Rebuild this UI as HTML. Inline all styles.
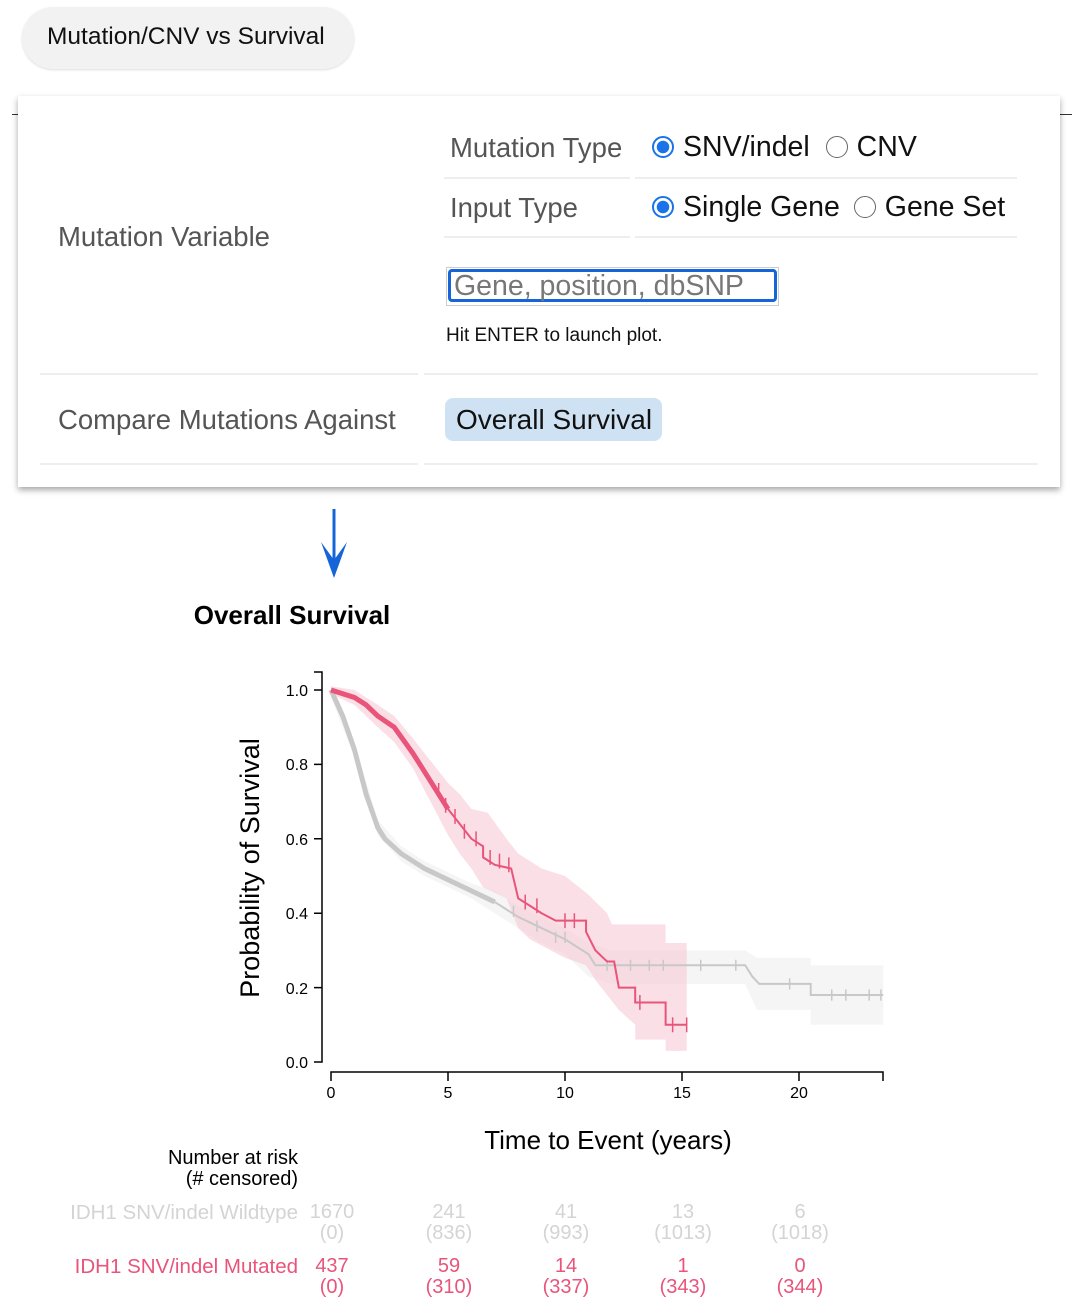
<!DOCTYPE html>
<html><head><meta charset="utf-8">
<style>
body{margin:0;width:1086px;height:1312px;background:#fff;position:relative;overflow:hidden;font-family:"Liberation Sans",Arial,sans-serif;}
.a{position:absolute;white-space:nowrap;}
.hl{position:absolute;height:2px;background:#eeeeee;}
.radio{display:inline-block;width:22px;height:22px;border-radius:50%;box-sizing:border-box;vertical-align:-2px;margin-right:9px;}
.on{border:2px solid #1a73e8;background:radial-gradient(circle,#1a73e8 0 6px,#fff 6.5px);}
.off{border:1.5px solid #666;background:#fff;}
.c{position:absolute;text-align:center;width:80px;line-height:21px;font-size:20px;}
</style></head><body>
<div class="a" style="left:22px;top:7px;width:332px;height:62px;border-radius:31px;background:#f2f2f2;box-shadow:0 1px 2px #ddd;"></div>
<div class="a" style="left:47px;top:23px;font-size:24.5px;color:#111;">Mutation/CNV vs Survival</div>
<div class="a" style="left:12px;top:114px;width:1060px;height:1px;background:#333;"></div>
<div class="a" style="left:18px;top:96px;width:1042px;height:391px;background:#fff;box-shadow:0 3px 6px rgba(0,0,0,0.35);"></div>
<div class="a" style="left:450px;top:132px;font-size:27.5px;color:#555;">Mutation Type</div>
<div class="a" style="left:652px;top:131px;font-size:28.5px;color:#111;"><span class="radio on"></span>SNV/indel <span style="display:inline-block;width:8px"></span><span class="radio off"></span>CNV</div>
<div class="hl" style="left:444px;top:177px;width:186px;"></div><div class="hl" style="left:635px;top:177px;width:382px;"></div>
<div class="a" style="left:450px;top:192px;font-size:27.5px;color:#555;">Input Type</div>
<div class="a" style="left:652px;top:191px;font-size:28.5px;color:#111;"><span class="radio on"></span>Single Gene <span style="display:inline-block;width:6px"></span><span class="radio off"></span>Gene Set</div>
<div class="hl" style="left:444px;top:236px;width:186px;"></div><div class="hl" style="left:635px;top:236px;width:382px;"></div>
<div class="a" style="left:58px;top:221px;font-size:27.5px;color:#555;">Mutation Variable</div>
<div class="a" style="left:446px;top:267px;width:333px;height:39px;border:1px solid #ccc;box-sizing:border-box;"></div>
<div class="a" style="left:448px;top:269px;width:329px;height:33px;border:3px solid #1565d8;border-radius:4px;box-sizing:border-box;"></div>
<div class="a" style="left:454px;top:270px;font-size:28.5px;color:#777;">Gene, position, dbSNP</div>
<div class="a" style="left:446px;top:325px;font-size:19px;color:#111;">Hit ENTER to launch plot.</div>
<div class="hl" style="left:40px;top:373px;width:378px;"></div><div class="hl" style="left:424px;top:373px;width:614px;"></div>
<div class="a" style="left:58px;top:404px;font-size:27.5px;color:#555;">Compare Mutations Against</div>
<div class="a" style="left:445px;top:398px;width:217px;height:43px;border-radius:8px;background:#cfe2f3;"></div>
<div class="a" style="left:456px;top:404px;font-size:28px;color:#111;">Overall Survival</div>
<div class="hl" style="left:40px;top:463px;width:378px;"></div><div class="hl" style="left:424px;top:463px;width:614px;"></div>

<svg class="a" style="left:0;top:0" width="1086" height="1312">
<line x1="334" y1="509" x2="334" y2="565" stroke="#1565d8" stroke-width="3"/>
<polygon points="321,542 334,578 347,542 334,560" fill="#1565d8"/>
<text x="292" y="624" font-size="26" font-weight="bold" text-anchor="middle" fill="#000" font-family="Liberation Sans">Overall Survival</text>
<text transform="translate(259,868) rotate(-90)" font-size="27" text-anchor="middle" fill="#000" font-family="Liberation Sans">Probability of Survival</text>
<text x="608" y="1149" font-size="26" text-anchor="middle" fill="#000" font-family="Liberation Sans">Time to Event (years)</text>
<g stroke="#000" stroke-width="1.5" fill="none">
<path d="M314,672H322V1062H314"/>
<path d="M314,690H322M314,764.4H322M314,838.8H322M314,913.2H322M314,987.6H322"/>
<path d="M331,1081V1072H883V1081"/>
<path d="M448,1072V1081M565,1072V1081M682,1072V1081M799,1072V1081"/>
</g>
<g font-size="16" fill="#000" font-family="Liberation Sans" text-anchor="end">
<text x="308" y="696">1.0</text><text x="308" y="770">0.8</text><text x="308" y="845">0.6</text><text x="308" y="919">0.4</text><text x="308" y="994">0.2</text><text x="308" y="1068">0.0</text>
</g>
<g font-size="16" fill="#000" font-family="Liberation Sans" text-anchor="middle">
<text x="331" y="1098">0</text><text x="448" y="1098">5</text><text x="565" y="1098">10</text><text x="682" y="1098">15</text><text x="799" y="1098">20</text>
</g>
<g transform="translate(331,1062) scale(23.4,-372)">
<polygon fill="#eeeeee" opacity="0.6" points="0,1 1,0.86 2,0.65 3,0.58 4,0.54 5,0.51 6,0.48 7,0.46 8,0.42 9,0.39 10,0.36 10.5,0.34 11,0.32 12,0.3 17,0.3 17.7,0.3 18.2,0.28 20.5,0.28 20.5,0.26 23.6,0.26 23.6,0.1 20.5,0.1 20.5,0.14 18.2,0.14 17.7,0.21 12,0.21 11,0.23 10,0.29 9,0.32 8,0.36 7,0.4 6,0.44 5,0.47 4,0.5 3,0.54 2,0.61 1,0.82 0,0.98"/>
<polygon fill="#f9c9d6" opacity="0.6" points="0,1.01 1,1 2,0.96 2.7,0.93 3.5,0.87 4,0.83 4.5,0.79 5,0.75 5.5,0.72 6,0.68 6.7,0.67 7.5,0.6 8,0.56 9,0.52 10,0.5 11,0.45 11.8,0.4 12,0.37 14.3,0.37 14.3,0.32 15.2,0.32 15.2,0.03 14.3,0.03 14.3,0.06 13,0.06 13,0.1 12.3,0.14 11.3,0.22 10.9,0.26 10,0.28 8.5,0.33 8,0.36 7.5,0.44 6.5,0.47 6,0.52 5.5,0.56 5,0.61 4.5,0.67 4,0.73 3.5,0.79 2.7,0.86 2,0.9 1,0.96 0,0.99"/>
<polyline fill="none" stroke="#c8c8c8" stroke-width="5" vector-effect="non-scaling-stroke" points="0,1 0.5,0.93 1,0.84 1.5,0.72 2,0.63 2.3,0.6 3,0.56 4,0.52 5,0.49 6,0.46 7,0.43"/>
<polyline fill="none" stroke="#c8c8c8" stroke-width="2" vector-effect="non-scaling-stroke" points="7,0.43 8,0.39 9,0.36 10,0.33 11,0.29 11.3,0.26 17.7,0.26 18,0.23 18.3,0.21 20.5,0.21 20.5,0.18 23.6,0.18"/>
<path stroke="#c8c8c8" stroke-width="1.5" vector-effect="non-scaling-stroke" d="M11.8,0.245V0.275M12.8,0.245V0.275M13.6,0.245V0.275M14.2,0.245V0.275M15.8,0.245V0.275M17.3,0.245V0.275M19.6,0.195V0.225M21.4,0.165V0.195M22.0,0.165V0.195M23,0.165V0.195M23.5,0.165V0.195M9.6,0.32V0.35M10,0.32V0.35M8.8,0.35V0.38M7.8,0.39V0.42"/>
<polyline fill="none" stroke="#e8547a" stroke-width="5" vector-effect="non-scaling-stroke" points="0,1 1,0.98 1.5,0.96 2,0.93 2.7,0.9 3.5,0.83 4,0.78 4.5,0.73 5,0.68"/>
<polyline fill="none" stroke="#e8547a" stroke-width="2" vector-effect="non-scaling-stroke" points="5,0.68 5.5,0.64 6,0.6 6.5,0.58 6.5,0.55 7,0.53 7.7,0.52 8,0.44 8.5,0.42 9,0.4 9.6,0.38 10.9,0.38 10.9,0.35 11.3,0.3 11.8,0.27 12.1,0.27 12.3,0.2 13,0.2 13,0.16 14.3,0.16 14.3,0.1 15.2,0.1"/>
<path stroke="#e8547a" stroke-width="1.5" vector-effect="non-scaling-stroke" d="M5.3,0.64V0.68M5.7,0.6V0.64M6.2,0.58V0.62M6.8,0.53V0.57M7.2,0.52V0.56M7.6,0.51V0.55M8.3,0.41V0.45M8.8,0.4V0.44M10,0.36V0.4M10.4,0.36V0.4M13.2,0.14V0.18M14.6,0.08V0.12M15.2,0.08V0.12M4.6,0.71V0.75M4.9,0.67V0.71"/>
</g>
</svg>

<div class="a" style="left:98px;top:1148px;width:200px;text-align:right;font-size:20px;line-height:21px;color:#000;">Number at risk<br>(# censored)</div>
<div class="a" style="left:0;top:1201px;width:298px;text-align:right;font-size:20.5px;color:#d4d4d4;">IDH1 SNV/indel Wildtype</div>
<div class="a" style="left:0;top:1255px;width:298px;text-align:right;font-size:20.5px;color:#e8547a;">IDH1 SNV/indel Mutated</div>
<div style="color:#d4d4d4">
<div class="c" style="left:292px;top:1202px;">1670<br>(0)</div>
<div class="c" style="left:409px;top:1202px;">241<br>(836)</div>
<div class="c" style="left:526px;top:1202px;">41<br>(993)</div>
<div class="c" style="left:643px;top:1202px;">13<br>(1013)</div>
<div class="c" style="left:760px;top:1202px;">6<br>(1018)</div>
</div>
<div style="color:#e8547a">
<div class="c" style="left:292px;top:1256px;">437<br>(0)</div>
<div class="c" style="left:409px;top:1256px;">59<br>(310)</div>
<div class="c" style="left:526px;top:1256px;">14<br>(337)</div>
<div class="c" style="left:643px;top:1256px;">1<br>(343)</div>
<div class="c" style="left:760px;top:1256px;">0<br>(344)</div>
</div>
</body></html>
